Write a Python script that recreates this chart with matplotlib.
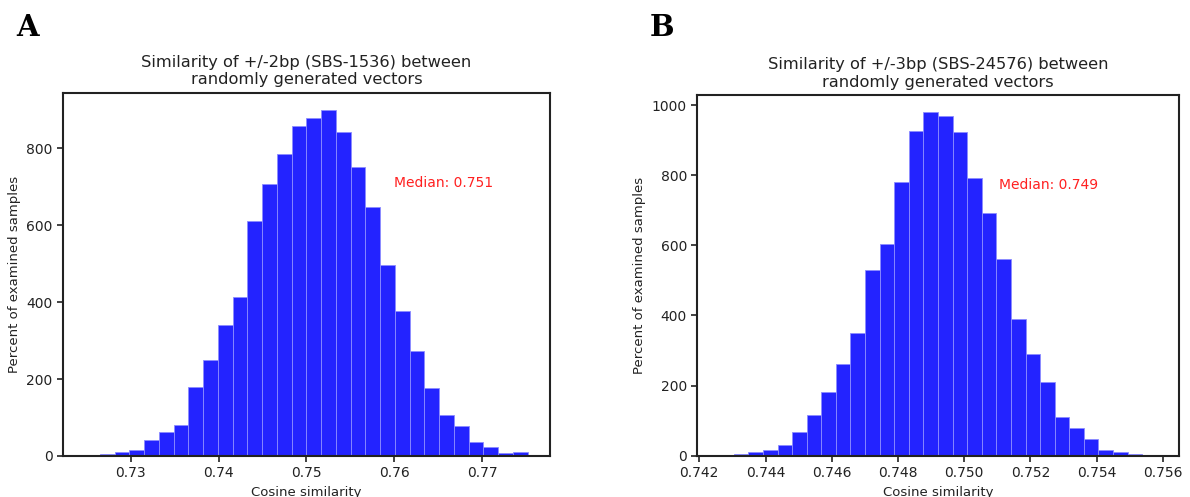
import matplotlib
matplotlib.use("Agg")
import matplotlib.pyplot as plt

# panel A: +/-2bp, 30 bins
a_start = 0.724787
a_width = 0.0016807
a_counts = [1, 4, 11, 15, 42, 63, 81, 180, 251, 342, 413, 611, 708, 785, 858,
            879, 900, 842, 752, 648, 497, 377, 274, 177, 107, 77, 37, 24, 8, 11]

# panel B: +/-3bp, 30 bins
b_start = 0.742602
b_width = 0.0004406
b_counts = [3, 4, 10, 17, 31, 67, 115, 182, 263, 351, 530, 604, 781, 927, 980,
            968, 924, 791, 692, 560, 389, 290, 210, 111, 79, 47, 17, 11, 4, 3]

a_ticks = [0.73, 0.74, 0.75, 0.76, 0.77]
b_ticks = [0.742, 0.744, 0.746, 0.748, 0.750, 0.752, 0.754, 0.756]

fig = plt.figure(figsize=(11.9, 4.97), dpi=100)
ax1 = fig.add_axes([0.0529, 0.0825, 0.4092, 0.731])
ax2 = fig.add_axes([0.586, 0.0831, 0.4045, 0.7258])


def draw(ax, start, width, counts, title, med_txt, med_xy):
    edges = [start + i * width for i in range(len(counts))]
    ax.bar(edges, counts, width=width, align='edge', color='#2323ff',
           edgecolor='#8c8cff', linewidth=0.6)
    ax.set_title(title, fontsize=11.7, color='#222222', pad=6)
    ax.set_xlabel('Cosine similarity', fontsize=9.5, color='#222222')
    ax.set_ylabel('Percent of examined samples', fontsize=9.5, color='#222222')
    ax.text(med_xy[0], med_xy[1], med_txt, color='#ff2020', fontsize=10, va='center')
    for s in ax.spines.values():
        s.set_linewidth(1.5)
        s.set_color('#222222')
    ax.tick_params(labelsize=10, width=1.2, length=4, colors='#222222')


draw(ax1, a_start, a_width, a_counts,
     'Similarity of +/-2bp (SBS-1536) between\nrandomly generated vectors',
     'Median: 0.751', (0.76, 710))
ax1.set_xticks(a_ticks)
ax1.set_xticklabels([f'{t:.2f}' for t in a_ticks])
ax1.set_yticks([0, 200, 400, 600, 800])

draw(ax2, b_start, b_width, b_counts,
     'Similarity of +/-3bp (SBS-24576) between\nrandomly generated vectors',
     'Median: 0.749', (0.75105, 773))
ax2.set_xticks(b_ticks)
ax2.set_xticklabels([f'{t:.3f}' for t in b_ticks])
ax2.set_yticks([0, 200, 400, 600, 800, 1000])

fig.text(0.014, 0.944, 'A', fontsize=21, fontweight='bold', family='DejaVu Serif', va='center')
fig.text(0.546, 0.944, 'B', fontsize=21, fontweight='bold', family='DejaVu Serif', va='center')

fig.savefig('out.png', dpi=100)
